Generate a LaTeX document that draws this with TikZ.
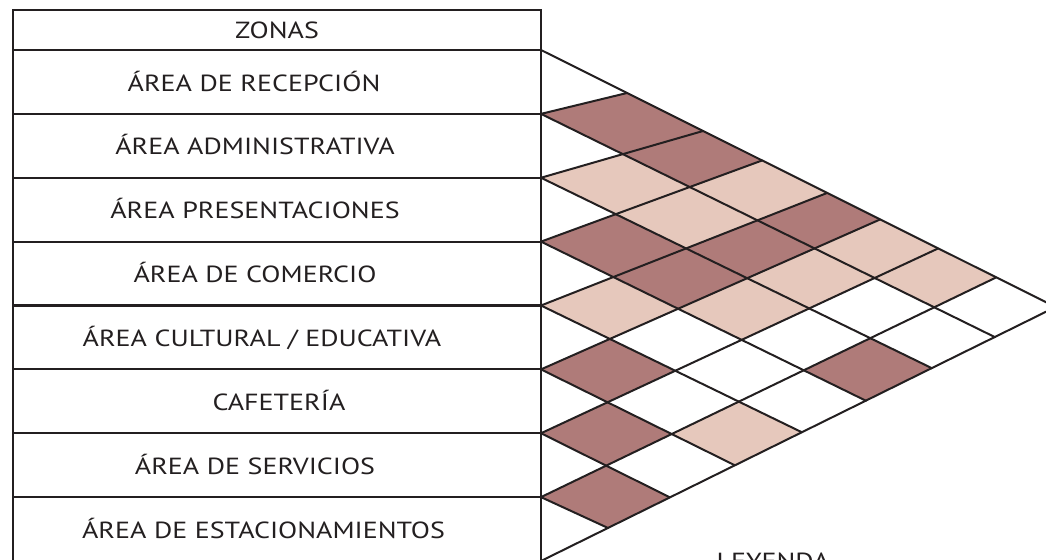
\documentclass[tikz,border=0pt]{standalone}
\usepackage{fontspec}
\setmainfont{PT Sans}[FakeStretch=1.2]
\usepackage{xcolor}
\definecolor{fuerte}{HTML}{AF7B79}
\definecolor{media}{HTML}{E6C8BC}
\definecolor{trazo}{HTML}{231F20}

\begin{document}
\begin{tikzpicture}[x=0.75pt, y=-0.75pt,
  celda/.style={draw=trazo, line width=1.5pt, minimum width=396pt, inner sep=0pt, outer sep=0pt},
  fila/.style={celda, minimum height=47.9pt},
  cabecera/.style={celda, minimum height=30pt},
  rotulo/.style={inner sep=0pt, text=trazo, font=\fontsize{17.5}{21}\selectfont,
    text height=12.25pt, text depth=0pt},
  rejilla/.style={draw=trazo, line width=1.5pt, line cap=round}]
  \useasboundingbox (0,0) rectangle (1046,560);
  \clip (0,0) rectangle (1046,560);
  % Matriz de relaciones: puntos del borde
  \foreach \k in {0,...,8}
    \coordinate (L\k) at (541,{50+63.875*\k});
  \coordinate (punta) at (1055.6,307);
  \foreach \b/\x in {1/627,2/703,3/762,4/827,5/880,6/938,7/996}
    \coordinate (T\b) at (\x,{50+0.5*(\x-541)});
  \coordinate (T8) at (punta);
  \foreach \a/\x in {1/995,2/932,3/866,4/802,5/735,6/670,7/608}
    \coordinate (B\a) at (\x,{561-0.493*(\x-541)});
  \coordinate (B0) at (punta);
  % Vertices interiores
  \foreach \k in {0,...,8}
    \coordinate (P\k-\k) at (L\k);
  \foreach \a in {0,...,7}{
    \pgfmathtruncatemacro\desde{\a+1}
    \foreach \b in {\desde,...,8}
      \coordinate (P\a-\b) at (intersection cs: first line={(L\a)--(B\a)}, second line={(L\b)--(T\b)});
  }
  % Relaciones: fuerte y media
  \foreach \i/\j/\tono in {1/2/fuerte,1/3/fuerte,1/5/fuerte,2/5/fuerte,3/4/fuerte,
      3/5/fuerte,3/8/fuerte,5/6/fuerte,6/7/fuerte,7/8/fuerte,
      1/4/media,1/6/media,1/7/media,2/3/media,2/4/media,2/6/media,3/6/media,4/5/media,5/8/media}{
    \pgfmathtruncatemacro\ia{\i-1}
    \pgfmathtruncatemacro\jb{\j-1}
    \fill[\tono] (P\i-\jb) -- (P\ia-\jb) -- (P\ia-\j) -- (P\i-\j) -- cycle;
  }
  % Rejilla
  \foreach \a in {0,...,7}
    \draw[rejilla] (L\a) -- (B\a);
  \foreach \b in {1,...,8}
    \draw[rejilla] (L\b) -- (T\b);
  % Tabla de zonas
  \node[cabecera] (zonas) at (277,30) {};
  \node[rotulo] (tzonas) at (277,30.5) {ZONAS};
  \foreach \k/\cx/\txt in {1/254/{ÁREA DE RECEPCIÓN},2/255/{ÁREA ADMINISTRATIVA},
      3/255/{ÁREA PRESENTACIONES},4/255/{ÁREA DE COMERCIO},
      5/262/{ÁREA CULTURAL / EDUCATIVA},6/279/{CAFETERÍA},
      7/255/{ÁREA DE SERVICIOS},8/263.5/{ÁREA DE ESTACIONAMIENTOS}}{
    \node[fila] (z\k) at (277,{50+63.875*(\k-0.5)}) {};
    \node[rotulo] (t\k) at (\cx,{51+63.875*(\k-0.5)}) {\txt};
  }
  \node[rotulo, anchor=north, text height=] (leyenda) at (773,553) {LEYENDA};
\end{tikzpicture}
\end{document}
